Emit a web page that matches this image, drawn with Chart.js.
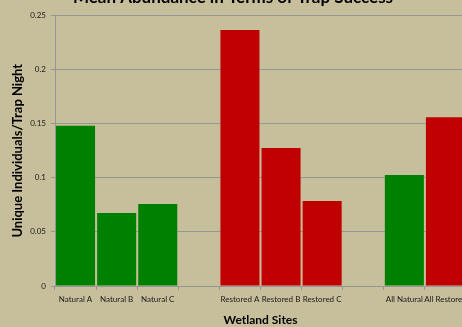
<!DOCTYPE html>
<html lang="en">
<head>
    <meta charset="UTF-8">
    <title>Mean Abundance in Terms of Trap Success</title>
    <script src="https://cdn.jsdelivr.net/npm/chart.js"></script>
    <style>
        html, body { margin: 0; padding: 0; overflow: hidden; background: #c7bf9c; }
        .box_grafico { width: 474px; height: 337px; margin-top: -10px; }
    </style>
</head>
<body>
    <div class="box_grafico">
        <canvas id="trap_success"></canvas>
    </div>

<script>
// sites on the x axis (blank entries are the gaps between groups)
const sites = ['Natural A', 'Natural B', 'Natural C', '', 'Restored A', 'Restored B', 'Restored C', '', 'All Natural', 'All Restored'];
// unique individuals per trap night
const abundance = [0.148, 0.0675, 0.0758, null, 0.2366, 0.1275, 0.0786, null, 0.1026, 0.156];
const siteType = ['natural', 'natural', 'natural', '', 'restored', 'restored', 'restored', '', 'natural', 'restored'];
const yTicks = [0, 0.05, 0.1, 0.15, 0.2, 0.25];

const corGrade = '#969696';
const cores = siteType.map(t => t == 'restored' ? '#c00000' : '#008000');

const config = {
    type: 'bar',
    data: {
        labels: sites,
        datasets: [{
            label: 'Abundance',
            data: abundance,
            backgroundColor: cores,
            borderWidth: 0,
            categoryPercentage: 1,
            barPercentage: 0.95
        }]
    },
    options: {
        responsive: false,
        animation: false,
        layout: { padding: { top: 0, right: 8, bottom: 0, left: 0 } },
        plugins: {
            legend: { display: false },
            tooltip: { enabled: false },
            title: {
                display: true,
                text: 'Mean Abundance in Terms of Trap Success',
                color: '#000',
                font: { family: 'Lato', size: 17, weight: 'bold', lineHeight: 0.9 },
                padding: { top: 0, bottom: 10.2 }
            }
        },
        scales: {
            x: {
                grid: { drawOnChartArea: false, drawTicks: true, tickLength: 4, color: corGrade },
                border: { color: corGrade },
                ticks: {
                    color: '#1a1a1a',
                    font: { family: 'Lato', size: 8 },
                    padding: 5,
                    maxRotation: 0,
                    autoSkip: false
                },
                title: {
                    display: true,
                    text: 'Wetland Sites',
                    color: '#000',
                    font: { family: 'Lato', size: 12, weight: 'bold' },
                    padding: { top: 0, bottom: 0 }
                },
                afterFit: s => { s.height = 41; }
            },
            y: {
                min: 0,
                max: 0.25,
                afterBuildTicks: s => { s.ticks = yTicks.map(v => ({ value: v })); },
                grid: { color: corGrade, tickLength: 4 },
                border: { color: corGrade },
                ticks: {
                    color: '#1a1a1a',
                    font: { family: 'Lato', size: 8 },
                    padding: 5,
                    callback: v => String(v)
                },
                title: {
                    display: true,
                    text: 'Unique Individuals/Trap Night',
                    color: '#000',
                    font: { family: 'Lato', size: 13, weight: 'bold' },
                    padding: { top: 10, bottom: 0 }
                },
                afterFit: s => { s.width = 55; }
            }
        }
    }
};

const canvas = document.getElementById('trap_success');
canvas.width = 474;
canvas.height = 337;
new Chart(canvas, config);
</script>
</body>
</html>
